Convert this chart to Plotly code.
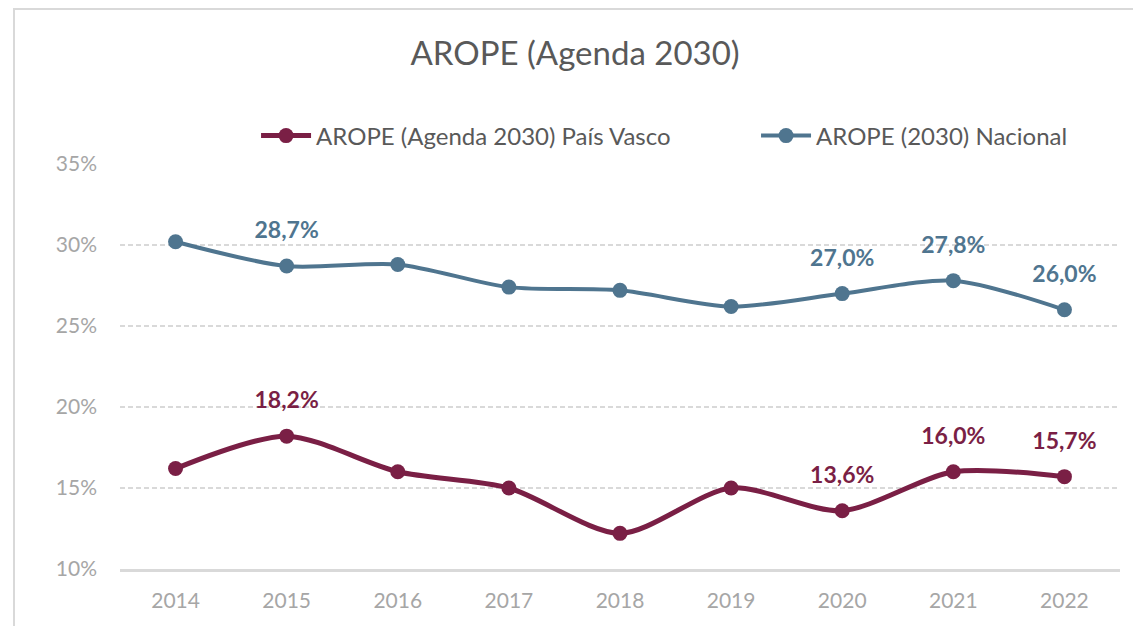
import plotly.graph_objects as go

years = ["2014", "2015", "2016", "2017", "2018", "2019", "2020", "2021", "2022"]
pais_vasco = [0.162, 0.182, 0.160, 0.150, 0.122, 0.150, 0.136, 0.160, 0.157]
nacional = [0.302, 0.287, 0.288, 0.274, 0.272, 0.262, 0.270, 0.278, 0.260]
pv_labels = ["", "18,2%", "", "", "", "", "13,6%", "16,0%", "15,7%"]
nac_labels = ["", "28,7%", "", "", "", "", "27,0%", "27,8%", "26,0%"]

pv_color = "#7A1F45"
nac_color = "#4F758F"
font_family = "Lato, Open Sans, sans-serif"

fig = go.Figure()
# data labels (transparent large markers push the text above the points)
for vals, labels, col in [(pais_vasco, pv_labels, pv_color), (nacional, nac_labels, nac_color)]:
    fig.add_trace(go.Scatter(
        x=years, y=vals, mode="markers+text", text=labels, textposition="top center",
        textfont=dict(color=col, size=23, family=font_family, weight="bold"),
        marker=dict(size=34, color="rgba(0,0,0,0)"),
        showlegend=False, hoverinfo="skip",
    ))
fig.add_trace(go.Scatter(
    x=years, y=pais_vasco, name="AROPE (Agenda 2030) País Vasco",
    mode="lines+markers",
    line=dict(color=pv_color, width=5, shape="spline", smoothing=0.8),
    marker=dict(color=pv_color, size=15),
    legend="legend",
))
fig.add_trace(go.Scatter(
    x=years, y=nacional, name="AROPE (2030) Nacional",
    mode="lines+markers",
    line=dict(color=nac_color, width=4, shape="spline", smoothing=0.8),
    marker=dict(color=nac_color, size=15),
    legend="legend2",
))

legend_common = dict(orientation="h", xref="container", yref="container",
                     xanchor="left", yanchor="middle",
                     font=dict(size=24, color="#595959", family=font_family),
                     itemwidth=50, bgcolor="rgba(0,0,0,0)")

fig.update_layout(
    width=1141, height=626,
    margin=dict(l=112, r=29, t=156, b=65, autoexpand=False),
    paper_bgcolor="white", plot_bgcolor="white",
    font=dict(family=font_family, color="#595959"),
    title=dict(text="AROPE (Agenda 2030)", xref="container", yref="container",
               x=0.497, xanchor="center", y=0.928, yanchor="middle",
               font=dict(size=33, color="#595959", family=font_family)),
    legend=dict(x=0.2174, y=0.7955, **legend_common),
    legend2=dict(x=0.6556, y=0.7955, **legend_common),
    showlegend=True,
)
fig.update_xaxes(
    type="category", range=[-0.5, 8.5], showgrid=False,
    showline=True, linecolor="#D9D9D9", linewidth=3,
    ticks="", ticklabelstandoff=11,
    tickfont=dict(size=21, color="#A6A6A6", family=font_family),
    fixedrange=True, automargin=False,
)
fig.update_yaxes(
    range=[0.10, 0.35], dtick=0.05, tickformat=".0%",
    showgrid=True, gridcolor="#D9D9D9", griddash="5px,3px", gridwidth=1.5,
    zeroline=False, showline=False, ticks="", ticklabelstandoff=22,
    tickfont=dict(size=21, color="#A6A6A6", family=font_family),
    fixedrange=True, automargin=False,
)
fig.add_shape(type="rect", xref="paper", yref="paper",
              x0=-0.106, x1=1.03, y0=-0.2, y1=1.383,
              line=dict(color="#D9D9D9", width=2), fillcolor="rgba(0,0,0,0)", layer="below")

fig.write_html("out.html")
